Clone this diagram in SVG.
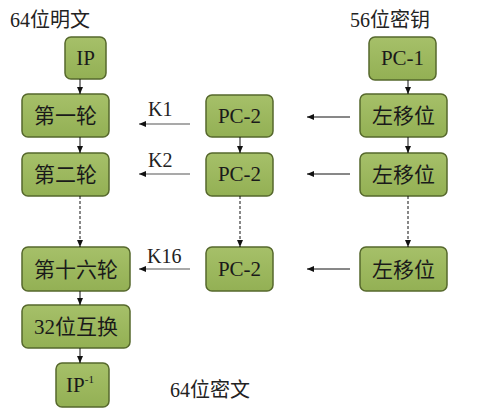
<svg xmlns="http://www.w3.org/2000/svg" width="500" height="409" viewBox="0 0 500 409">
<style>
.box{fill:url(#g);stroke:#56682c;stroke-width:1.5}
.t{font-family:"Liberation Serif","Noto Sans CJK SC",serif;font-size:21px;fill:#1a1a1a;text-anchor:middle}
.lbl{font-family:"Liberation Serif","Noto Sans CJK SC",serif;font-size:20px;fill:#222}
.c{stroke:#111;stroke-width:1;fill:none}
.d{stroke:#111;stroke-width:1;fill:none;stroke-dasharray:3,2}
.k{stroke:#555;stroke-width:1.2;fill:none}
</style>
<defs>
<linearGradient id="g" x1="0" y1="0" x2="0" y2="1">
<stop offset="0" stop-color="#a6c069"/>
<stop offset="1" stop-color="#93b054"/>
</linearGradient>
<marker id="a" markerWidth="8" markerHeight="8" refX="7" refY="4" orient="auto" markerUnits="userSpaceOnUse">
<path d="M0,1 L7,4 L0,7 Z" fill="#111"/>
</marker>
</defs>
<rect width="500" height="409" fill="#fff"/>
<text class="lbl" x="10" y="27">64位明文</text>
<text class="lbl" x="350" y="27">56位密钥</text>
<text class="lbl" x="170" y="397">64位密文</text>
<g id="ip"><rect class="box" x="65" y="37" width="41" height="42" rx="6"/><text class="t" x="85.5" y="65">IP</text></g>
<g id="r1"><rect class="box" x="22" y="94" width="87" height="43" rx="6"/><text class="t" x="65.5" y="123">第一轮</text></g>
<g id="r2"><rect class="box" x="22" y="153" width="87" height="43" rx="6"/><text class="t" x="65.5" y="182">第二轮</text></g>
<g id="r16"><rect class="box" x="22" y="247" width="108" height="44" rx="6"/><text class="t" x="76" y="277">第十六轮</text></g>
<g id="swap"><rect class="box" x="22" y="305" width="108" height="43" rx="6"/><text class="t" x="76" y="334">32位互换</text></g>
<g id="ipinv"><rect class="box" x="56" y="363" width="53" height="44" rx="6"/><text class="t" x="80" y="392">IP<tspan font-size="11" dy="-9">-1</tspan></text></g>
<g id="pc2a"><rect class="box" x="206" y="95" width="67" height="42" rx="6"/><text class="t" x="239.5" y="123">PC-2</text></g>
<g id="pc2b"><rect class="box" x="206" y="153" width="67" height="43" rx="6"/><text class="t" x="239.5" y="181">PC-2</text></g>
<g id="pc2c"><rect class="box" x="206" y="247" width="67" height="44" rx="6"/><text class="t" x="239.5" y="276">PC-2</text></g>
<g id="pc1"><rect class="box" x="369" y="37" width="67" height="43" rx="6"/><text class="t" x="402.5" y="65">PC-1</text></g>
<g id="ls1"><rect class="box" x="360" y="94" width="87" height="43" rx="6"/><text class="t" x="403.5" y="123">左移位</text></g>
<g id="ls2"><rect class="box" x="360" y="153" width="87" height="43" rx="6"/><text class="t" x="403.5" y="182">左移位</text></g>
<g id="ls3"><rect class="box" x="360" y="247" width="87" height="44" rx="6"/><text class="t" x="403.5" y="277">左移位</text></g>
<g id="connectors">
<line class="c" x1="80" y1="79" x2="80" y2="94" marker-end="url(#a)"/>
<line class="c" x1="80" y1="137" x2="80" y2="153" marker-end="url(#a)"/>
<line class="d" x1="80" y1="196" x2="80" y2="247" marker-end="url(#a)"/>
<line class="c" x1="80" y1="291" x2="80" y2="305" marker-end="url(#a)"/>
<line class="c" x1="80" y1="348" x2="80" y2="363" marker-end="url(#a)"/>
<line class="c" x1="240" y1="137" x2="240" y2="153" marker-end="url(#a)"/>
<line class="d" x1="240" y1="196" x2="240" y2="247" marker-end="url(#a)"/>
<line class="c" x1="408" y1="80" x2="408" y2="94" marker-end="url(#a)"/>
<line class="c" x1="408" y1="137" x2="408" y2="153" marker-end="url(#a)"/>
<line class="d" x1="408" y1="196" x2="408" y2="247" marker-end="url(#a)"/>
<line class="c" x1="350" y1="117" x2="307" y2="117" marker-end="url(#a)"/>
<line class="c" x1="350" y1="174" x2="307" y2="174" marker-end="url(#a)"/>
<line class="c" x1="350" y1="269" x2="307" y2="269" marker-end="url(#a)"/>
<line class="k" x1="190" y1="124" x2="139" y2="124" marker-end="url(#a)"/>
<line class="k" x1="190" y1="174" x2="139" y2="174" marker-end="url(#a)"/>
<line class="k" x1="190" y1="269" x2="139" y2="269" marker-end="url(#a)"/>
<text class="lbl" x="148" y="116">K1</text>
<text class="lbl" x="148" y="167">K2</text>
<text class="lbl" x="147" y="263">K16</text>
</g>
</svg>
